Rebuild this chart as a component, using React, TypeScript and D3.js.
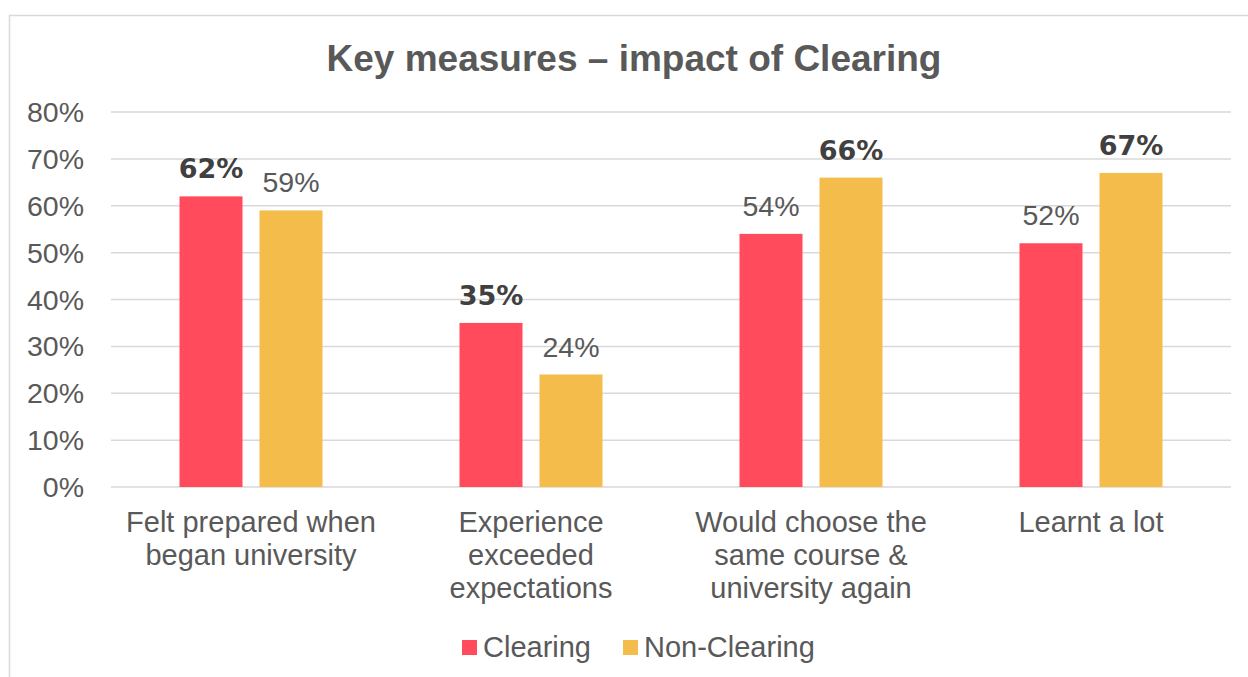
import React from "react";
import * as d3 from "d3";

const categories = [
  ["Felt prepared when", "began university"],
  ["Experience", "exceeded", "expectations"],
  ["Would choose the", "same course &", "university again"],
  ["Learnt a lot"],
];
const seriesNames = ["Clearing", "Non-Clearing"];
const clearing = [62, 35, 54, 52];
const nonClearing = [59, 24, 66, 67];
const boldClearing = [true, true, false, false];
const boldNon = [false, false, true, true];
const yTicks = [0, 10, 20, 30, 40, 50, 60, 70, 80];
const colors = ["#FF4B5C", "#F4BC4A"];

export default function App() {
  const W = 1248, H = 677;
  const left = 111, right = 1231, top = 112, bottom = 487;
  const x0 = d3.scaleBand<number>().domain(d3.range(categories.length)).range([left, right]).paddingInner(0).paddingOuter(0);
  const x1 = d3.scaleBand<number>().domain([0, 1]).range([0, 143]).paddingInner(17 / 80).paddingOuter(0);
  const y = d3.scaleLinear().domain([0, 80]).range([bottom, top]);
  const series = [clearing, nonClearing];
  const bolds = [boldClearing, boldNon];
  const font = "'Liberation Sans', Arial, sans-serif";
  return (
    <svg width={W} height={H} style={{ position: "absolute", left: 0, top: 0 }}>
      <rect x={0} y={0} width={W} height={H} fill="#fff" />
      <rect x={9.5} y={15.5} width={W + 20} height={H + 20} fill="none" stroke="#D9D9D9" strokeWidth={1.5} />
      <text x={634} y={71} textAnchor="middle" fontFamily={font} fontWeight="bold" fontSize={37} fill="#595959">
        Key measures – impact of Clearing
      </text>
      {yTicks.map((t) => (
        <g key={t}>
          <line x1={left} x2={right} y1={y(t)} y2={y(t)} stroke="#D9D9D9" strokeWidth={1.5} />
          <text x={84} y={y(t) + 10} textAnchor="end" fontFamily={font} fontSize={28.5} fill="#595959">
            {t}%
          </text>
        </g>
      ))}
      {categories.map((cat, i) => {
        const gx = x0(i)! + x0.bandwidth() / 2 - 71.5;
        return (
          <g key={i}>
            {series.map((s, j) => {
              const bx = gx + x1(j)!;
              const bw = x1.bandwidth();
              return (
                <g key={j}>
                  <rect x={bx} y={y(s[i])} width={bw} height={bottom - y(s[i])} fill={colors[j]} />
                  <text
                    x={bx + bw / 2}
                    y={y(s[i]) - 18}
                    textAnchor="middle"
                    fontFamily={bolds[j][i] ? "'DejaVu Sans', sans-serif" : font}
                    fontWeight={bolds[j][i] ? "bold" : "normal"}
                    fontSize={bolds[j][i] ? 27 : 28.5}
                    fill={bolds[j][i] ? "#404040" : "#595959"}
                  >
                    {s[i]}%
                  </text>
                </g>
              );
            })}
            {cat.map((line, k) => (
              <text key={k} x={x0(i)! + x0.bandwidth() / 2} y={532 + k * 33} textAnchor="middle" fontFamily={font} fontSize={29} fill="#595959">
                {line}
              </text>
            ))}
          </g>
        );
      })}
      <g>
        <rect x={462} y={640} width={15} height={15} fill={colors[0]} />
        <text x={483} y={657} fontFamily={font} fontSize={29} fill="#595959">{seriesNames[0]}</text>
        <rect x={623} y={640} width={15} height={15} fill={colors[1]} />
        <text x={644} y={657} fontFamily={font} fontSize={29} fill="#595959">{seriesNames[1]}</text>
      </g>
    </svg>
  );
}
